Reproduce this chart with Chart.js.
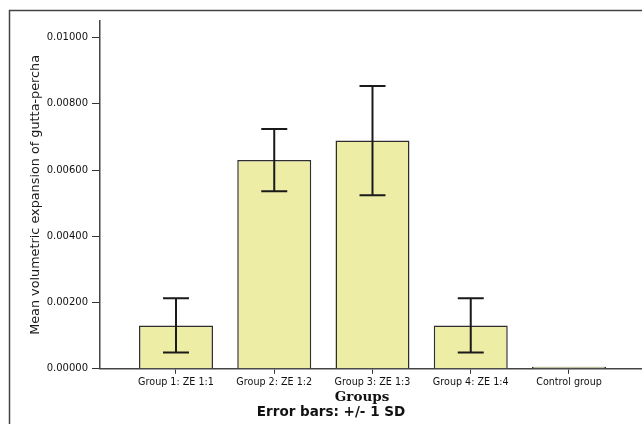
<!DOCTYPE html>
<html><head><meta charset="utf-8">
<script src="https://cdn.jsdelivr.net/npm/chart.js@4"></script>
<style>html,body{margin:0;padding:0;background:#fff}#wrap{width:642px;height:424px;position:relative}canvas{display:block}</style>
</head><body><div id="wrap"><canvas id="c" width="642" height="424"></canvas></div>
<script>
const categories = ['Group 1: ZE 1:1', 'Group 2: ZE 1:2', 'Group 3: ZE 1:3', 'Group 4: ZE 1:4', 'Control group'];
const meanExpansion = [0.00131, 0.00630, 0.00689, 0.00131, 0.00000];
const sdExpansion = [0.00082, 0.00094, 0.00165, 0.00082, 0];
const yTicks = [0, 0.002, 0.004, 0.006, 0.008, 0.010];
const yTitle = 'Mean volumetric expansion of gutta-percha';
const xTitle = 'Groups';
const footnote = 'Error bars: +/- 1 SD';

const extras = {
  id: 'extras',
  beforeDraw(chart) {
    const ctx = chart.ctx;
    ctx.save();
    ctx.strokeStyle = '#444';
    ctx.lineWidth = 1.5;
    ctx.beginPath();
    ctx.moveTo(9.5, 424);
    ctx.lineTo(9.5, 10.5);
    ctx.lineTo(642, 10.5);
    ctx.stroke();
    ctx.restore();
  },
  afterDatasetsDraw(chart) {
    const ctx = chart.ctx;
    const meta = chart.getDatasetMeta(0);
    const ys = chart.scales.y;
    ctx.save();
    ctx.strokeStyle = '#1a1a1a';
    ctx.lineWidth = 2;
    meta.data.forEach((bar, i) => {
      const sd = sdExpansion[i];
      if (!sd) return;
      const x = bar.x;
      const top = ys.getPixelForValue(meanExpansion[i] + sd);
      const bot = ys.getPixelForValue(meanExpansion[i] - sd);
      const hw = 13;
      ctx.beginPath();
      ctx.moveTo(x, top); ctx.lineTo(x, bot);
      ctx.moveTo(x - hw, top); ctx.lineTo(x + hw, top);
      ctx.moveTo(x - hw, bot); ctx.lineTo(x + hw, bot);
      ctx.stroke();
    });
    ctx.restore();
  },
  afterDraw(chart) {
    const ctx = chart.ctx;
    const a = chart.chartArea;
    ctx.save();
    ctx.font = 'bold 13.5px "DejaVu Serif"';
    ctx.fillStyle = '#111';
    ctx.textAlign = 'center';
    ctx.textBaseline = 'middle';
    ctx.fillText(xTitle, (a.left + a.right) / 2 - 9, a.bottom + 29);
    ctx.restore();
  }
};

new Chart(document.getElementById('c'), {
  type: 'bar',
  data: {
    datasets: [{
      data: categories.map((c, i) => ({ x: i + 1, y: meanExpansion[i] })),
      backgroundColor: '#ededa6',
      borderColor: '#2e2e2e',
      borderWidth: 1.5,
      barPercentage: 0.753,
      categoryPercentage: 1,
      minBarLength: 2
    }]
  },
  options: {
    responsive: false,
    devicePixelRatio: 1,
    animation: false,
    layout: { padding: { left: 20, top: 21, right: 0, bottom: 0 } },
    plugins: {
      legend: { display: false },
      tooltip: { enabled: false },
      title: {
        display: true,
        text: footnote,
        position: 'bottom',
        color: '#111',
        font: { family: 'DejaVu Sans', weight: 'bold', size: 13.5 },
        padding: { top: 2, bottom: 3 }
      }
    },
    scales: {
      x: {
        type: 'linear',
        offset: false,
        min: 0.2265,
        max: 5.743,
        afterBuildTicks: s => { s.ticks = categories.map((c, i) => ({ value: i + 1 })); },
        afterFit: s => { s.height = 34; },
        ticks: {
          callback: v => categories[v - 1],
          autoSkip: false,
          maxRotation: 0,
          color: '#111',
          padding: 3,
          font: { family: 'DejaVu Sans', size: 9.6 }
        },
        grid: { offset: false, drawOnChartArea: false, drawTicks: true, tickLength: 5, tickColor: '#333' },
        border: { color: '#444', width: 1.5 }
      },
      y: {
        min: 0,
        max: 0.0105,
        afterBuildTicks: s => { s.ticks = yTicks.map(v => ({ value: v })); },
        afterFit: s => { s.width = 80; },
        ticks: {
          callback: v => Number(v).toFixed(5),
          color: '#111',
          padding: 4,
          font: { family: 'DejaVu Sans', size: 10 }
        },
        grid: { drawOnChartArea: false, drawTicks: true, tickLength: 8, tickColor: '#333' },
        border: { color: '#444', width: 1.5 },
        title: {
          display: true,
          text: yTitle,
          color: '#1a1a1a',
          font: { family: 'DejaVu Sans', size: 12.8 },
          padding: { top: 8, bottom: 0 }
        }
      }
    }
  },
  plugins: [extras]
});
</script>
</body></html>
